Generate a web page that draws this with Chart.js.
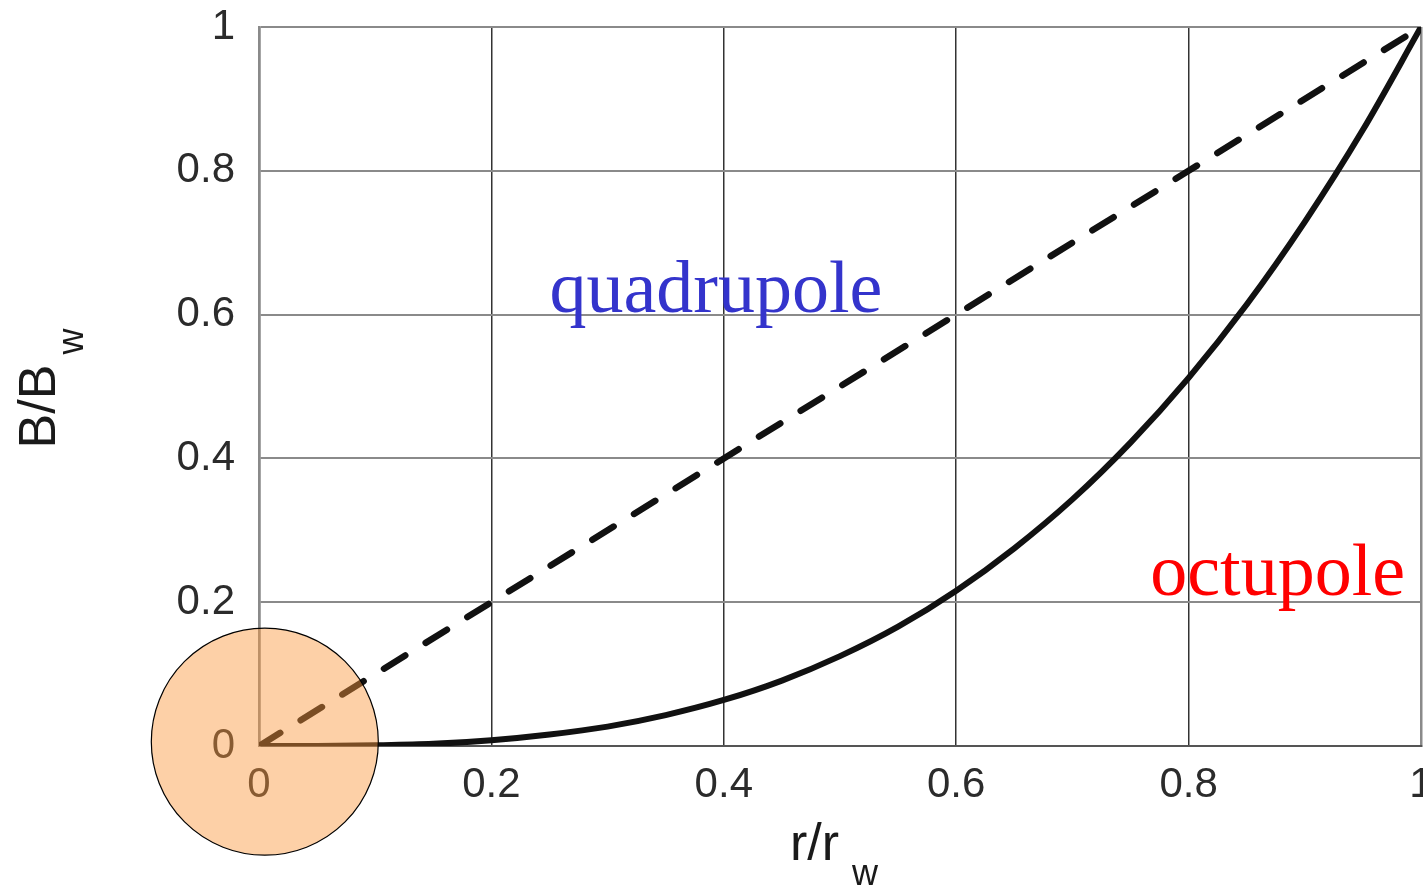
<!DOCTYPE html>
<html>
<head>
<meta charset="utf-8">
<script src="https://cdn.jsdelivr.net/npm/chart.js@4.4.0/dist/chart.umd.min.js"></script>
<style>
html,body{margin:0;padding:0;background:#fff;}
#wrap{width:1423px;height:891px;}
</style>
</head>
<body>
<div id="wrap"><canvas id="fieldChart"></canvas></div>
<script>
// r/r_w sample points and field ratio B/B_w
const rQuad = [0, 0.2, 0.4, 0.6, 0.8, 1];
const quadValues = [0, 0.2, 0.4, 0.6, 0.8, 1];
const rOct = [0, 0.05, 0.1, 0.15, 0.2, 0.25, 0.3, 0.35, 0.4, 0.45, 0.5, 0.55, 0.6, 0.65, 0.7, 0.75, 0.8, 0.85, 0.9, 0.95, 1];
const octValues = [0, 0.0001, 0.001, 0.003, 0.008, 0.016, 0.027, 0.043, 0.064, 0.091, 0.125, 0.166, 0.216, 0.275, 0.343, 0.422, 0.512, 0.614, 0.729, 0.857, 1];
const tickValues = [0, 0.2, 0.4, 0.6, 0.8, 1];
const seriesNames = ['quadrupole', 'octupole'];
// highlighted origin marker
const markerPoint = [{x: 0.005, y: 0.006, r: 113.5}];

const tickFont = {family: '"Liberation Sans", Arial, sans-serif', size: 42};

// labels next to the curves, placed in data coordinates
const curveLabels = {
    id: 'curveLabels',
    afterDatasetsDraw(chart) {
        const ctx = chart.ctx, xs = chart.scales.x, ys = chart.scales.y;
        const spots = [
            {text: seriesNames[0], x: 0.25, y: 0.604, color: '#3434cc'},
            {text: seriesNames[1], x: 0.767, y: 0.21, color: '#ff0000'}
        ];
        ctx.save();
        ctx.font = '74px "Liberation Serif", "Times New Roman", serif';
        ctx.textAlign = 'left';
        ctx.textBaseline = 'alphabetic';
        spots.forEach(s => {
            ctx.fillStyle = s.color;
            ctx.fillText(s.text, xs.getPixelForValue(s.x), ys.getPixelForValue(s.y));
        });
        ctx.restore();
    }
};

// axis titles with subscript w
const axisTitles = {
    id: 'axisTitles',
    afterDraw(chart) {
        const ctx = chart.ctx, a = chart.chartArea;
        const big = '52px "Liberation Sans", Arial, sans-serif';
        const small = '36px "Liberation Sans", Arial, sans-serif';
        ctx.save();
        ctx.fillStyle = '#1a1a1a';
        ctx.textAlign = 'left';
        ctx.textBaseline = 'alphabetic';

        // x title
        ctx.font = big;
        const mx = ctx.measureText('r/r').width;
        ctx.font = small;
        const sx = ctx.measureText('w').width;
        let x0 = (a.left + a.right) / 2 - 6 - (mx + 13 + sx) / 2;
        ctx.font = big;
        ctx.fillText('r/r', x0, a.bottom + 114);
        ctx.font = small;
        ctx.fillText('w', x0 + mx + 13, a.bottom + 139);

        // y title
        ctx.translate(a.left - 204, (a.top + a.bottom) / 2 + 2);
        ctx.rotate(-Math.PI / 2);
        ctx.font = big;
        const my = ctx.measureText('B/B').width;
        ctx.font = small;
        const sy = ctx.measureText('w').width;
        const y0 = -(my + 10 + sy) / 2;
        ctx.font = big;
        ctx.fillText('B/B', y0, 0);
        ctx.font = small;
        ctx.fillText('w', y0 + my + 10, 28);
        ctx.restore();
    }
};

const chart = new Chart(document.getElementById('fieldChart'), {
    type: 'scatter',
    data: {
        datasets: [{
            type: 'bubble',
            data: markerPoint,
            backgroundColor: 'rgba(250,150,60,0.45)',
            borderColor: '#000',
            borderWidth: 1.2,
            clip: false,
            order: -1
        },
        {
            label: seriesNames[0],
            data: rQuad.map((r, i) => ({x: r, y: quadValues[i]})),
            showLine: true,
            borderColor: '#111',
            borderWidth: 6.5,
            borderDash: [25, 24],
            borderCapStyle: 'round',
            pointRadius: 0,
            fill: false
        },
        {
            label: seriesNames[1],
            data: rOct.map((r, i) => ({x: r, y: octValues[i]})),
            showLine: true,
            borderColor: '#111',
            borderWidth: 6,
            borderCapStyle: 'round',
            borderJoinStyle: 'round',
            cubicInterpolationMode: 'monotone',
            pointRadius: 0,
            fill: false
        }]
    },
    options: {
        responsive: true,
        maintainAspectRatio: false,
        animation: false,
        layout: {autoPadding: false, padding: {top: 27, right: 2, left: 0, bottom: 0}},
        plugins: {legend: {display: false}, tooltip: {enabled: false}},
        scales: {
            x: {
                type: 'linear',
                min: 0,
                max: 1,
                afterBuildTicks: s => { s.ticks = tickValues.map(v => ({value: v})); },
                afterFit: s => { s.height = 145; s.paddingLeft = 0; s.paddingRight = 0; },
                ticks: {
                    font: tickFont,
                    color: '#2b2b2b',
                    padding: 14,
                    maxRotation: 0,
                    autoSkip: false,
                    callback: v => String(v)
                },
                grid: {
                    drawTicks: false,
                    color: c => (c.tick && (c.tick.value === 0 || c.tick.value === 1)) ? '#8a8a8a' : '#333',
                    lineWidth: c => (c.tick && (c.tick.value === 0 || c.tick.value === 1)) ? 2.5 : 1.5
                },
                border: {color: '#555', width: 2}
            },
            y: {
                type: 'linear',
                min: 0,
                max: 1,
                afterBuildTicks: s => { s.ticks = tickValues.map(v => ({value: v})); },
                afterFit: s => { s.width = 259; s.paddingTop = 0; s.paddingBottom = 0; },
                ticks: {
                    font: tickFont,
                    color: '#2b2b2b',
                    padding: 24,
                    autoSkip: false,
                    callback: v => String(v)
                },
                grid: {
                    drawTicks: false,
                    color: '#8a8a8a',
                    lineWidth: 2
                },
                border: {color: '#8a8a8a', width: 2.5}
            }
        }
    },
    plugins: [curveLabels, axisTitles]
});
</script>
</body>
</html>
